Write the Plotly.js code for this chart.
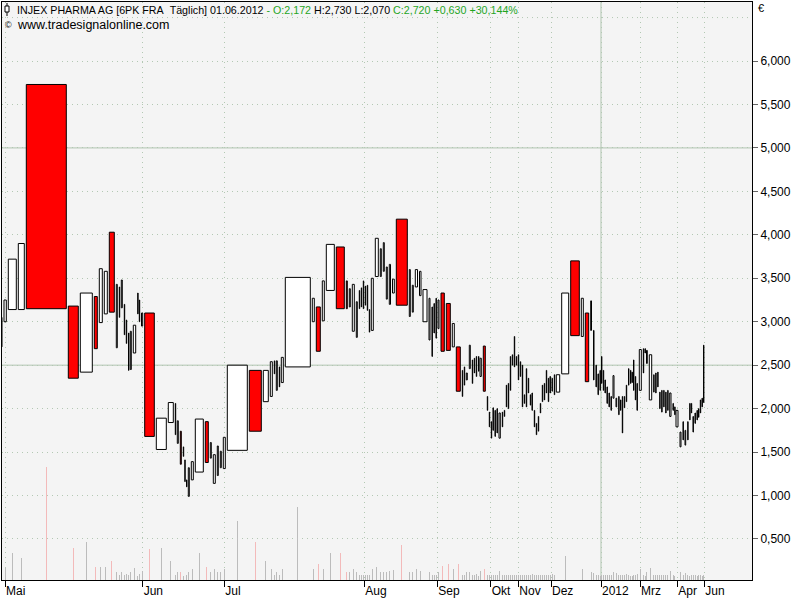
<!DOCTYPE html>
<html><head><meta charset="utf-8">
<script src="https://cdn.plot.ly/plotly-3.0.1.min.js"></script>
<style>html,body{margin:0;padding:0;background:#fff}#chart{width:800px;height:600px}</style>
</head><body><div id="chart"></div>
<script>
// Equivolume-style candles: box spans high..low, slot width = volume
const vol = [
 3, 4.3, 10, 8, 42, 12, 14, 5, 5, 5,
 7, 3, 2, 3, 2, 2.2, 1.8, 3, 4.4, 1.6,
 2.2, 3.2, 11.6, 12, 7, 2, 3, 3, 1.5, 1.7,
 1.8, 3, 4, 10, 5, 3, 4, 3, 3, 4,
 22, 14, 7, 4, 2, 3, 2, 4, 27, 4,
 6, 4, 10, 10, 3, 3, 4, 3, 2, 2,
 2, 2, 2, 2, 4, 5, 3, 3, 3, 3.2,
 3.8, 13, 3, 3, 4.2, 3.5, 6, 3, 2, 2,
 2, 3, 5.3, 6, 4, 6, 2, 2, 3, 3,
 2, 2, 2.2, 1.5, 3.3, 4, 2, 2, 1.7, 2,
 2, 2, 3.3, 2, 2, 2, 2, 2, 2, 2,
 2, 2, 2, 2, 2, 2, 2, 1.7, 2.3, 2,
 2, 2, 2, 2, 2, 2, 1.7, 2, 2.3, 2,
 5.4, 9, 10.6, 4, 5.4, 2.8, 2.5, 2, 2, 1.5,
 1.8, 1.7, 2, 2, 2, 2, 3, 2.7, 1.8, 1.8,
 2, 2, 2.2, 2, 1.5, 1.5, 1.8, 1.7, 2.3, 4,
 1.7, 1.5, 2.8, 4.4, 2, 2, 2, 2, 2, 2,
 2, 2, 3.3, 1.7, 1.3, 4, 3, 2, 2.7, 2,
 1.6, 1.7, 2, 2, 1.5, 1.8, 1.7, 1.5, 2
];
const high = [
 3.05, 3.25, 3.72, 3.90, 5.73, 3.18, 3.33, 3.29, 3.61, 3.58,
 4.03, 3.43, 3.40, 3.48, 3.20, 3.02, 2.87, 2.89, 2.96, 3.33,
 3.25, 3.10, 3.10, 1.89, 2.07, 2.06, 1.86, 1.74, 1.56, 1.41,
 1.18, 1.32, 1.39, 1.88, 1.85, 1.61, 1.47, 1.57, 1.51, 1.67,
 2.50, 2.44, 2.44, 2.54, 2.55, 2.55, 2.48, 2.59, 3.51, 3.27,
 3.17, 3.47, 3.89, 3.86, 3.47, 3.38, 3.43, 3.23, 3.36, 3.39,
 3.47, 3.41, 3.42, 3.14, 3.50, 3.96, 3.84, 3.91, 3.63, 3.66,
 3.49, 4.18, 3.60, 3.42, 3.60, 3.58, 3.37, 3.27, 3.17, 3.21,
 3.27, 3.25, 3.33, 3.21, 2.98, 2.71, 2.44, 2.48, 2.41, 2.73,
 2.56, 2.58, 2.60, 2.60, 2.58, 2.72, 2.14, 1.96, 1.85, 2.01,
 1.98, 2.00, 1.95, 1.96, 1.98, 2.27, 2.29, 2.60, 2.62, 2.83,
 2.60, 2.62, 2.54, 2.50, 2.16, 2.46, 2.35, 2.16, 2.18, 1.98,
 1.83, 1.91, 2.06, 2.27, 2.29, 2.44, 2.35, 2.37, 2.35, 2.39,
 2.39, 3.33, 3.70, 3.27, 3.10, 3.24, 2.90, 2.50, 2.40, 2.44,
 2.60, 2.44, 2.33, 2.25, 2.18, 2.14, 2.38, 2.12, 2.14, 2.10,
 2.14, 2.14, 2.27, 2.46, 2.44, 2.42, 2.56, 2.37, 2.29, 2.68,
 2.69, 2.69, 2.67, 2.62, 2.39, 2.41, 2.42, 2.19, 2.21, 2.21,
 2.19, 2.21, 2.18, 2.06, 2.02, 1.98, 1.73, 1.85, 1.75, 1.85,
 2.06, 2.06, 1.91, 1.95, 1.98, 2.00, 2.10, 2.12, 2.73
];
const low = [
 2.71, 3.00, 3.14, 3.14, 3.15, 2.35, 2.42, 2.69, 2.99, 3.09,
 3.11, 2.70, 3.05, 3.16, 2.85, 2.75, 2.44, 2.45, 2.64, 3.09,
 3.00, 2.95, 1.68, 1.53, 1.84, 1.70, 1.60, 1.36, 1.45, 1.16,
 1.10, 0.99, 1.18, 1.27, 1.38, 1.43, 1.14, 1.23, 1.32, 1.31,
 1.52, 1.74, 2.08, 2.14, 2.40, 2.21, 2.25, 2.30, 2.48, 3.00,
 2.66, 3.01, 3.36, 3.15, 3.15, 3.17, 2.89, 2.82, 3.15, 3.17,
 3.15, 3.19, 3.13, 2.88, 2.90, 3.52, 3.52, 3.58, 3.26, 3.20,
 3.33, 3.19, 3.06, 3.11, 3.40, 3.30, 3.00, 2.79, 2.60, 2.87,
 2.81, 2.92, 2.66, 2.67, 2.71, 2.20, 2.14, 2.27, 2.33, 2.46,
 2.29, 2.41, 2.37, 2.43, 2.37, 2.20, 1.98, 1.79, 1.66, 1.75,
 1.68, 1.72, 1.66, 1.79, 1.91, 2.02, 2.00, 2.21, 2.50, 2.48,
 2.50, 2.33, 2.37, 2.02, 2.06, 2.02, 2.18, 2.04, 1.98, 1.79,
 1.70, 1.74, 1.95, 2.08, 2.10, 2.18, 2.08, 2.18, 2.20, 2.16,
 2.19, 2.40, 2.84, 2.83, 2.31, 2.90, 2.33, 2.25, 2.16, 2.21,
 2.29, 2.21, 2.18, 2.06, 2.02, 1.98, 2.12, 2.02, 1.93, 1.98,
 1.72, 2.01, 2.08, 2.27, 2.29, 2.30, 2.21, 2.10, 1.98, 2.21,
 2.41, 2.64, 2.52, 2.10, 2.19, 2.18, 2.25, 2.00, 1.96, 2.02,
 1.95, 1.98, 1.91, 1.98, 1.93, 1.79, 1.56, 1.64, 1.58, 1.64,
 1.87, 1.95, 1.73, 1.83, 1.87, 1.90, 1.95, 2.02, 2.07
];
// 1 = falling candle (red), 0 = rising (white)
const down = [
 0,0,0,0,1,1,0,1,0,0,
 1,0,0,0,0,0,0,0,0,0,
 0,0,1,0,0,0,0,1,0,0,
 0,0,0,0,1,0,0,0,0,0,
 0,1,0,0,0,0,0,0,0,0,
 1,0,0,1,1,0,0,0,0,0,
 0,0,0,0,0,0,0,0,0,0,
 0,1,0,0,0,0,0,0,0,0,
 0,0,1,1,0,1,0,0,0,0,
 0,0,0,0,0,1,0,0,0,0,
 0,0,0,0,0,0,0,0,0,0,
 0,0,0,0,0,0,0,0,0,0,
 0,0,0,0,0,0,0,0,0,0,
 0,0,1,0,1,0,0,0,0,0,
 0,0,0,0,0,0,0,0,0,0,
 0,0,0,0,0,0,0,0,0,0,
 0,0,0,0,0,0,0,0,0,0,
 0,0,0,0,0,0,0,0,0,0,
 0,0,0,0,0,0,0,0,0
];
const monthLabels = ['Mai','Jun','Jul','Aug','Sep','Okt','Nov','Dez','2012','Mrz','Apr','Jun'];
const monthPos = [5, 142.7, 224.3, 364.3, 437.3, 490.7, 518.3, 551, 601, 640, 677.3, 704.3];
const priceTicks = [0.5, 1.0, 1.5, 2.0, 2.5, 3.0, 3.5, 4.0, 4.5, 5.0, 5.5, 6.0];
const majorLevels = [2.5, 5.0];
const headName = 'INJEX PHARMA AG [6PK FRA\u00a0\u00a0Täglich] 01.06.2012';
const headOpen = '- O:2,172';
const headHL = 'H:2,730 L:2,070';
const headClose = 'C:2,720 +0,630 +30,144%';
const source = 'www.tradesignalonline.com';

// layout constants
const X0 = 1, GAP = 2;
const xs = [], ws = [];
let acc = X0;
vol.forEach(v => { const w = Math.max(v - GAP, 0.4); xs.push(acc + w / 2); ws.push(w); acc += v; });

const green = '#1fa51f';
const gridCol = '#b3c8b3';

const traces = [
  {type:'bar', x: xs, y: vol, width: 0.9, yaxis:'y2',
   marker:{color: down.map(d => d ? '#f3baba' : '#bcbcbc'), line:{width:0}}, hoverinfo:'skip'},
  {type:'bar', x: xs, y: high.map((h,i) => h - low[i]), base: low, width: ws,
   marker:{color: down.map(d => d ? '#ff0000' : '#ffffff'), line:{color:'#000', width:1}}, hoverinfo:'skip'}
];

const px2x = p => (p - 2) / 750, py2y = p => (580 - p) / 578;

const shapes = majorLevels.map(v => ({type:'line', xref:'paper', yref:'y', x0:0, x1:1, y0:v, y1:v,
  line:{color:'#b0c4b0', width:1}, layer:'below'}));
shapes.push({type:'line', xref:'paper', yref:'y', x0:0, x1:1, y0:6.5, y1:6.5, line:{color:gridCol, width:1, dash:'1px,4px'}, layer:'below'});
shapes.push({type:'line', xref:'x', yref:'paper', x0:monthPos[8], x1:monthPos[8], y0:0, y1:1, line:{color:'#b0c4b0', width:1}, layer:'below'});
// small candle icon in header
shapes.push({type:'line', xref:'paper', yref:'paper', x0:px2x(7), x1:px2x(7), y0:py2y(3), y1:py2y(16), line:{color:'#000', width:1}});
shapes.push({type:'rect', xref:'paper', yref:'paper', x0:px2x(5), x1:px2x(9), y0:py2y(6), y1:py2y(12), line:{color:'#000', width:1}, fillcolor:'#fff'});

const annotations = [
  {xref:'paper', yref:'paper', x:px2x(15), y:py2y(10), xanchor:'left', yanchor:'middle', showarrow:false,
   text: headName + ' <span style="color:' + green + '">' + headOpen + '</span> ' + headHL + ' <span style="color:' + green + '">' + headClose + '</span>',
   font:{size:10.7, color:'#000'}},
  {xref:'paper', yref:'paper', x:px2x(3), y:py2y(25), xanchor:'left', yanchor:'middle', showarrow:false,
   text:'©', font:{size:9, color:'#000'}},
  {xref:'paper', yref:'paper', x:px2x(15), y:py2y(25), xanchor:'left', yanchor:'middle', showarrow:false,
   text: source, font:{size:12.5, color:'#000'}},
  {xref:'paper', yref:'paper', x:px2x(756), y:py2y(8), xanchor:'left', yanchor:'middle', showarrow:false,
   text:'€', font:{size:11, color:'#000'}}
];

const layout = {
  width:800, height:600, margin:{l:2, r:48, t:2, b:20},
  paper_bgcolor:'#ffffff', plot_bgcolor:'#f4f4f4', showlegend:false,
  barmode:'overlay', bargap:0, separators:',.',
  font:{family:'Liberation Sans, Arial, sans-serif', size:11, color:'#000'},
  xaxis:{range:[2,752], tickvals:monthPos, ticktext:monthLabels, ticks:'outside', ticklen:6, tickcolor:'#000', tickwidth:1,
    ticklabelposition:'outside right', tickangle:0, ticklabelstandoff:0, showgrid:true, gridcolor:gridCol, griddash:'1px,4px', gridwidth:1,
    showline:true, mirror:true, linecolor:'#000', linewidth:1, zeroline:false, tickfont:{size:12}, fixedrange:true},
  yaxis:{range:[0.028, 6.679], side:'right', tickvals:priceTicks, tickformat:'.3f', ticks:'outside', ticklen:5, tickcolor:'#666',
    showgrid:true, gridcolor:gridCol, griddash:'1px,4px', gridwidth:1, showline:true, mirror:true, linecolor:'#000', linewidth:1,
    zeroline:false, tickfont:{size:12}, fixedrange:true},
  yaxis2:{overlaying:'y', range:[0,214], visible:false, fixedrange:true},
  shapes, annotations
};
Plotly.newPlot('chart', traces, layout, {displayModeBar:false, staticPlot:true});
</script></body></html>
